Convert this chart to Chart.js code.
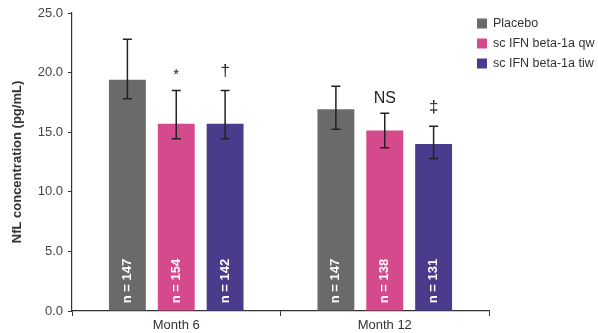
<!DOCTYPE html>
<html><head><meta charset="utf-8">
<script src="https://cdn.jsdelivr.net/npm/chart.js@4/dist/chart.umd.min.js"></script>
<style>html,body{margin:0;padding:0;background:#fff}canvas{display:block}</style>
</head><body>
<canvas id="c" width="598" height="333"></canvas>
<script>
const categories = ["Month 6", "Month 12"];
const seriesNames = ["Placebo", "sc IFN beta-1a qw", "sc IFN beta-1a tiw"];
const placebo = [19.4, 16.92];
const scQw = [15.7, 15.15];
const scTiw = [15.7, 14.0];
const placeboErr = [[17.8, 22.8], [15.25, 18.85]];
const scQwErr = [[14.45, 18.5], [13.7, 16.6]];
const scTiwErr = [[14.45, 18.5], [12.8, 15.5]];
const placeboN = [147, 147];
const scQwN = [154, 138];
const scTiwN = [142, 131];
const placeboSig = ["", ""];
const scQwSig = ["*", "NS"];
const scTiwSig = ["\u2020", "\u2021"];
const yTicks = [0, 5, 10, 15, 20, 25];

const colors = ["#6a6a6a", "#d54a8d", "#4a3b8c"];
const FONT = "'Liberation Sans', Arial, sans-serif";

const datasets = [
  {label: seriesNames[0], data: placebo, err: placeboErr, n: placeboN, sig: placeboSig},
  {label: seriesNames[1], data: scQw, err: scQwErr, n: scQwN, sig: scQwSig},
  {label: seriesNames[2], data: scTiw, err: scTiwErr, n: scTiwN, sig: scTiwSig}
].map((d, i) => Object.assign(d, {backgroundColor: colors[i], borderWidth: 0,
  categoryPercentage: 0.703, barPercentage: 0.755}));

const overlay = {
  id: 'overlay',
  afterDatasetsDraw(chart) {
    const ctx = chart.ctx, y = chart.scales.y;
    chart.data.datasets.forEach((ds, di) => {
      const meta = chart.getDatasetMeta(di);
      meta.data.forEach((bar, i) => {
        const x = bar.x;
        const [lo, hi] = ds.err[i];
        const yl = y.getPixelForValue(lo), yh = y.getPixelForValue(hi);
        ctx.save();
        ctx.strokeStyle = '#222';
        ctx.lineWidth = 1.5;
        ctx.beginPath();
        ctx.moveTo(x, yl); ctx.lineTo(x, yh);
        ctx.moveTo(x - 4.5, yl); ctx.lineTo(x + 4.5, yl);
        ctx.moveTo(x - 4.5, yh); ctx.lineTo(x + 4.5, yh);
        ctx.stroke();
        // n labels
        ctx.translate(x, y.getPixelForValue(0) - 30);
        ctx.rotate(-Math.PI / 2);
        ctx.fillStyle = '#fff';
        ctx.font = "bold 13px " + FONT;
        ctx.textAlign = 'center';
        ctx.textBaseline = 'middle';
        ctx.fillText('n = ' + ds.n[i], 0, 0);
        ctx.restore();
        // significance
        const s = ds.sig[i];
        if (s) {
          ctx.save();
          ctx.fillStyle = '#222';
          ctx.textAlign = 'center';
          ctx.textBaseline = 'middle';
          if (s === 'NS') { ctx.font = "16px " + FONT; ctx.fillText(s, x, yh - 15); }
          else if (s === '*') { ctx.font = "15px " + FONT; ctx.fillText(s, x, yh - 16); }
          else { ctx.font = "17px " + FONT; ctx.fillText(s, x, yh - 19); }
          ctx.restore();
        }
      });
    });
    // custom legend
    ctx.save();
    ctx.font = "12.5px " + FONT;
    ctx.textBaseline = 'middle';
    chart.data.datasets.forEach((ds, di) => {
      const ly = 23.5 + di * 20;
      ctx.fillStyle = ds.backgroundColor;
      ctx.fillRect(477, ly - 5, 10, 10);
      ctx.fillStyle = '#333';
      ctx.fillText(ds.label, 493, ly);
    });
    ctx.restore();
  }
};

new Chart(document.getElementById('c'), {
  type: 'bar',
  data: {labels: categories, datasets},
  options: {
    responsive: false,
    animation: false,
    devicePixelRatio: 1,
    layout: {padding: {left: 0, right: 109, top: 13, bottom: 0}},
    plugins: {legend: {display: false}, tooltip: {enabled: false}},
    scales: {
      x: {
        grid: {offset: true, drawOnChartArea: false, drawTicks: true, tickLength: 5, color: '#333', lineWidth: 1},
        border: {color: '#333', width: 1.2},
        ticks: {color: '#333', font: {family: FONT, size: 13}, padding: 2},
        afterFit(s) { s.height = 22; }
      },
      y: {
        min: 0, max: 25,
        afterBuildTicks(s) { s.ticks = yTicks.map(v => ({value: v})); },
        grid: {drawOnChartArea: false, drawTicks: true, tickLength: 4, color: '#333'},
        border: {color: '#333', width: 1.2},
        ticks: {color: '#444', font: {family: FONT, size: 13}, padding: 5,
          callback: v => Number(v).toFixed(1)},
        title: {display: true, text: 'NfL concentration (pg/mL)', color: '#333',
          font: {family: FONT, size: 13, weight: 'bold'}, padding: {top: 10, bottom: 0}},
        afterFit(s) { s.width = 72; }
      }
    }
  },
  plugins: [overlay]
});
</script>
</body></html>
